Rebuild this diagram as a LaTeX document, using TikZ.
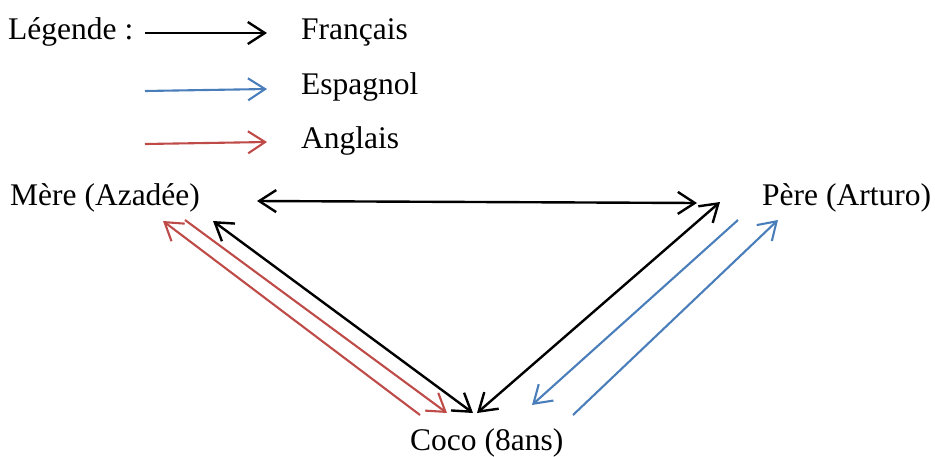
\documentclass[tikz,border=0pt]{standalone}
\usepackage{fontspec}
\setmainfont{Liberation Serif}
\usetikzlibrary{arrows.meta}
\definecolor{fblue}{HTML}{4A7EBB}
\definecolor{fred}{HTML}{BE4B48}
\tikzset{
  lbl/.style={anchor=base west,inner sep=0pt,font=\fontsize{31.5}{36}\selectfont},
  head/.style={-{Straight Barb[length=17pt,width=22pt]}},
  dhead/.style={{Straight Barb[length=17pt,width=22pt]}-{Straight Barb[length=17pt,width=22pt]}},
  fr/.style={draw=black,line width=2.4pt},
  es/.style={draw=fblue,line width=2.1pt},
  en/.style={draw=fred,line width=2.1pt},
}
\begin{document}
\begin{tikzpicture}[x=1pt,y=-1pt]
\useasboundingbox (0,0) rectangle (935,456);
% legend
\node[lbl] (leg) at (8,39) {Légende :};
\node[lbl] (lfr) at (301,39) {Français};
\node[lbl] (les) at (301,94) {Espagnol};
\node[lbl] (len) at (301,148) {Anglais};
\coordinate (lfa) at (145,33); \coordinate (lfb) at (267,33);
\coordinate (lea) at (145,91); \coordinate (leb) at (267,89);
\coordinate (lna) at (145,144); \coordinate (lnb) at (267,142);
\draw[fr,head] (lfa) -- (lfb);
\draw[es,head] (lea) -- (leb);
\draw[en,head] (lna) -- (lnb);
% people
\node[lbl] (mere) at (10,205) {Mère (Azadée)};
\node[lbl] (pere) at (762,205) {Père (Arturo)};
\node[lbl] (coco) at (410,450) {Coco (8ans)};
% endpoints
\coordinate (mp1) at (257,201); \coordinate (mp2) at (697,203);
\coordinate (mc1) at (213,221); \coordinate (mc2) at (473,413);
\coordinate (pc1) at (720,202); \coordinate (pc2) at (477,413);
\coordinate (r1a) at (420,415); \coordinate (r1b) at (163,221);
\coordinate (r2a) at (185,220); \coordinate (r2b) at (447,413);
\coordinate (b1a) at (738,220); \coordinate (b1b) at (532,405);
\coordinate (b2a) at (573,415); \coordinate (b2b) at (778,220);
% French
\draw[fr,dhead] (mp1) -- (mp2);
\draw[fr,dhead] (mc1) -- (mc2);
\draw[fr,dhead] (pc1) -- (pc2);
% English
\draw[en,head] (r1a) -- (r1b);
\draw[en,head] (r2a) -- (r2b);
% Spanish
\draw[es,head] (b1a) -- (b1b);
\draw[es,head] (b2a) -- (b2b);
\end{tikzpicture}
\end{document}
